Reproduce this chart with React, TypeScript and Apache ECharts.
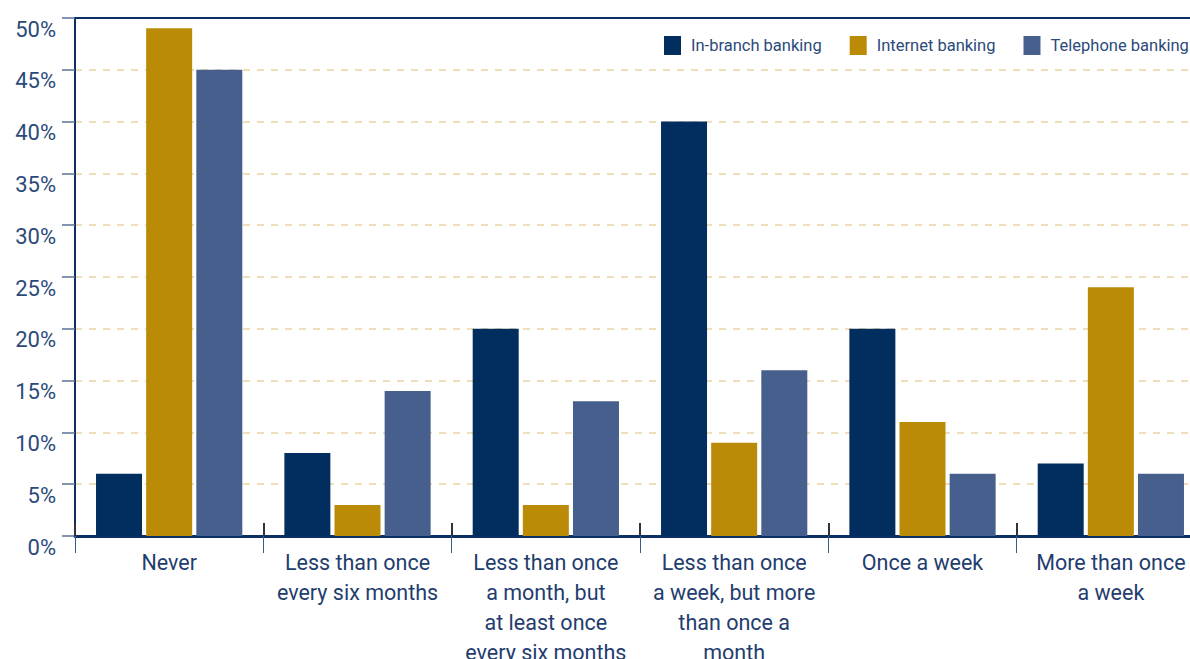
import React, { useEffect, useRef } from "react";
import * as echarts from "echarts";

const categories = [
  "Never",
  "Less than once\nevery six months",
  "Less than once\na month, but\nat least once\nevery six months",
  "Less than once\na week, but more\nthan once a\nmonth",
  "Once a week",
  "More than once\na week",
];
const inBranch = [6, 8, 20, 40, 20, 7];
const internet = [49, 3, 3, 9, 11, 24];
const telephone = [45, 14, 13, 16, 6, 6];
const seriesNames = ["In-branch banking", "Internet banking", "Telephone banking"];
const colors = ["#022d5f", "#bb8a07", "#475f8d"];

const FONT = "Roboto, 'Liberation Sans', sans-serif";

export default function App() {
  const ref = useRef<HTMLDivElement>(null);
  useEffect(() => {
    if (!ref.current) return;
    const chart = echarts.init(ref.current, undefined, { renderer: "svg" });
    const data = [inBranch, internet, telephone];
    chart.setOption({
      animation: false,
      backgroundColor: "#ffffff",
      legend: {
        left: 664,
        top: 36,
        width: 600,
        padding: 0,
        itemWidth: 17,
        itemHeight: 19,
        itemGap: 28,
        icon: "rect",
        textStyle: {
          fontFamily: FONT,
          fontSize: 16.5,
          color: "#2b4a7a",
          padding: [0, 0, 0, 5],
        },
        data: seriesNames,
      },
      grid: {
        left: 75,
        top: 18,
        width: 1130,
        height: 518,
        show: false,
        containLabel: false,
        outerBoundsMode: "none",
      },
      xAxis: [
        {
          type: "category",
          data: categories,
          axisLine: { show: true, lineStyle: { color: "#0b2f63", width: 3 } },
          axisTick: { show: true, length: 17, lineStyle: { color: "#3d5a8a", width: 1 } },
          axisLabel: {
            fontFamily: FONT,
            fontSize: 21.5,
            color: "#1f3d6e",
            lineHeight: 30,
            margin: 11,
            interval: 0,
          },
          splitLine: { show: false },
        },
        {
          type: "category",
          data: categories,
          position: "bottom",
          axisLine: { show: false },
          axisTick: { show: true, inside: true, length: 13, lineStyle: { color: "#333333", width: 2 } },
          axisLabel: { show: false },
          splitLine: { show: false },
        },
        {
          type: "category",
          data: categories,
          position: "top",
          axisLine: { show: true, lineStyle: { color: "#0b2f63", width: 2 } },
          axisTick: { show: false },
          axisLabel: { show: false },
          splitLine: { show: false },
        },
      ],
      yAxis: {
        type: "value",
        min: 0,
        max: 50,
        interval: 5,
        axisLine: { show: true, lineStyle: { color: "#0b2f63", width: 2 } },
        axisTick: { show: true, length: 13, lineStyle: { color: "#5a7098", width: 1.5 } },
        axisLabel: {
          formatter: "{value}%",
          fontFamily: FONT,
          fontSize: 22,
          color: "#2b4a7a",
          margin: 19,
          verticalAlign: "top",
        },
        splitLine: {
          show: true,
          lineStyle: { color: "#ecd3a4", type: [7, 7], width: 1.5 },
        },
      },
      series: seriesNames.map((name, i) => ({
        name,
        type: "bar",
        xAxisIndex: 0,
        data: data[i],
        barWidth: 46,
        barGap: "9%",
        itemStyle: { color: colors[i] },
      })),
    });
    return () => chart.dispose();
  }, []);
  return (
    <div
      ref={ref}
      style={{ position: "fixed", left: 0, top: 0, width: 1190, height: 659 }}
    />
  );
}
